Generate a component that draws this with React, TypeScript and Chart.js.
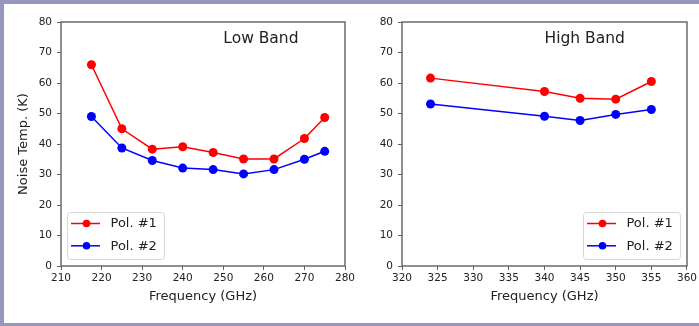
import React, { useEffect, useRef } from 'react';
import { Chart, registerables } from 'chart.js';

Chart.register(...registerables);

// ---- data ----
const lowFreq = [217.5, 225, 232.5, 240, 247.5, 255, 262.5, 270, 275];
const lowPol1 = [66, 45, 38.3, 39.1, 37.2, 35.1, 35.1, 41.8, 48.7];
const lowPol2 = [49, 38.7, 34.6, 32.1, 31.6, 30.2, 31.6, 35, 37.6];
const highFreq = [324, 340, 345, 350, 355];
const highPol1 = [61.6, 57.2, 55, 54.7, 60.5];
const highPol2 = [53.1, 49.1, 47.7, 49.7, 51.3];
const seriesLabels = ['Pol. #1', 'Pol. #2'];
const seriesColors = ['#ff0000', '#0000ff'];
const yLabel = 'Noise Temp. (K)';
const xLabel = 'Frequency (GHz)';
const lowTitle = 'Low Band';
const highTitle = 'High Band';
const lowRange = [210, 280, 10];
const highRange = [320, 360, 5];
const yRange = [0, 80, 10];

const FONT = "'DejaVu Sans', sans-serif";
const TEXT = '#222222';
const FRAME = '#606060';

const decoPlugin = {
  id: 'panelDeco',
  afterDraw(chart: any, _args: any, opts: any) {
    const { ctx, chartArea } = chart;
    const { left, right, top, bottom } = chartArea;
    ctx.save();
    // frame
    ctx.strokeStyle = FRAME;
    ctx.lineWidth = 1.4;
    ctx.strokeRect(left, top, right - left, bottom - top);
    // annotation text
    const xs = chart.scales.x;
    const ys = chart.scales.y;
    ctx.fillStyle = TEXT;
    ctx.font = `15.5px ${FONT}`;
    ctx.textAlign = 'left';
    ctx.textBaseline = 'alphabetic';
    ctx.fillText(opts.text, xs.getPixelForValue(opts.textX), ys.getPixelForValue(opts.textY));
    // legend
    const bw = 97;
    const bh = 47;
    const bx = opts.legend === 'left' ? left + 6 : right - 7 - bw;
    const by = bottom - 7 - bh;
    ctx.beginPath();
    if ((ctx as any).roundRect) (ctx as any).roundRect(bx + 0.5, by + 0.5, bw, bh, 3);
    else ctx.rect(bx + 0.5, by + 0.5, bw, bh);
    ctx.fillStyle = 'rgba(255,255,255,0.8)';
    ctx.fill();
    ctx.strokeStyle = '#d6d6d6';
    ctx.lineWidth = 1;
    ctx.stroke();
    chart.data.datasets.forEach((ds: any, i: number) => {
      const cy = by + 11.5 + i * 22.3;
      ctx.strokeStyle = ds.borderColor;
      ctx.lineWidth = 1.5;
      ctx.beginPath();
      ctx.moveTo(bx + 4, cy);
      ctx.lineTo(bx + 33, cy);
      ctx.stroke();
      ctx.fillStyle = ds.borderColor;
      ctx.beginPath();
      ctx.arc(bx + 19.5, cy, 3.8, 0, Math.PI * 2);
      ctx.fill();
      ctx.fillStyle = TEXT;
      ctx.font = `13px ${FONT}`;
      ctx.textBaseline = 'middle';
      ctx.fillText(ds.label, bx + 43.5, cy + 0.5);
    });
    ctx.restore();
  },
};

function makeConfig(
  freq: number[],
  p1: number[],
  p2: number[],
  range: number[],
  yAxisWidth: number,
  text: string,
  textX: number,
  legend: string
): any {
  const mk = (vals: number[], i: number) => ({
    label: seriesLabels[i],
    data: freq.map((f, k) => ({ x: f, y: vals[k] })),
    borderColor: seriesColors[i],
    backgroundColor: seriesColors[i],
    pointBackgroundColor: seriesColors[i],
    pointBorderWidth: 0,
    pointRadius: 4.5,
    borderWidth: 1.5,
    tension: 0,
    fill: false,
  });
  return {
    type: 'line',
    data: { datasets: [mk(p1, 0), mk(p2, 1)] },
    plugins: [decoPlugin],
    options: {
      animation: false,
      responsive: false,
      maintainAspectRatio: false,
      layout: { padding: { left: 0, top: 18, right: 19, bottom: 0 } },
      plugins: {
        legend: { display: false },
        tooltip: { enabled: false },
        panelDeco: { text, textX, textY: 73, legend },
      },
      scales: {
        x: {
          type: 'linear',
          min: range[0],
          max: range[1],
          afterFit: (s: any) => {
            s.height = 57;
          },
          ticks: {
            stepSize: range[2],
            color: TEXT,
            font: { family: FONT, size: 10.5 },
            padding: 2,
            maxRotation: 0,
            autoSkip: false,
          },
          grid: { drawOnChartArea: false, drawTicks: true, tickLength: 4, color: FRAME, lineWidth: 1 },
          border: { display: false },
          title: {
            display: true,
            text: xLabel,
            color: TEXT,
            font: { family: FONT, size: 13 },
            padding: { top: 4, bottom: 19 },
          },
        },
        y: {
          type: 'linear',
          min: yRange[0],
          max: yRange[1],
          afterFit: (s: any) => {
            s.width = yAxisWidth;
          },
          ticks: {
            stepSize: yRange[2],
            color: TEXT,
            font: { family: FONT, size: 10.5 },
            padding: 5,
          },
          grid: { drawOnChartArea: false, drawTicks: true, tickLength: 4, color: FRAME, lineWidth: 1 },
          border: { display: false },
          title: {
            display: yAxisWidth > 55,
            text: yLabel,
            color: TEXT,
            font: { family: FONT, size: 13 },
            padding: { top: 12, bottom: 0 },
          },
        },
      },
    },
  };
}

function Panel(props: { cfg: any; left: number; width: number }) {
  const ref = useRef<HTMLCanvasElement | null>(null);
  useEffect(() => {
    if (!ref.current) return;
    const chart = new Chart(ref.current, props.cfg);
    return () => chart.destroy();
  }, []);
  return (
    <canvas
      ref={ref}
      width={props.width}
      height={319}
      style={{ position: 'absolute', left: props.left, top: 4, width: props.width, height: 319 }}
    />
  );
}

export default function App() {
  const lowCfg = makeConfig(lowFreq, lowPol1, lowPol2, lowRange, 57, lowTitle, 250, 'left');
  const highCfg = makeConfig(highFreq, highPol1, highPol2, highRange, 52, highTitle, 340, 'right');
  highCfg.options.layout.padding.right = 12;
  return (
    <div
      style={{
        position: 'fixed',
        left: 0,
        top: 0,
        width: 710,
        height: 326,
        background: '#9696be',
        overflow: 'hidden',
      }}
    >
      <div style={{ position: 'absolute', left: 4, top: 4, width: 710, height: 319, background: '#ffffff' }} />
      <Panel cfg={lowCfg} left={4} width={360} />
      <Panel cfg={highCfg} left={350} width={349} />
    </div>
  );
}
